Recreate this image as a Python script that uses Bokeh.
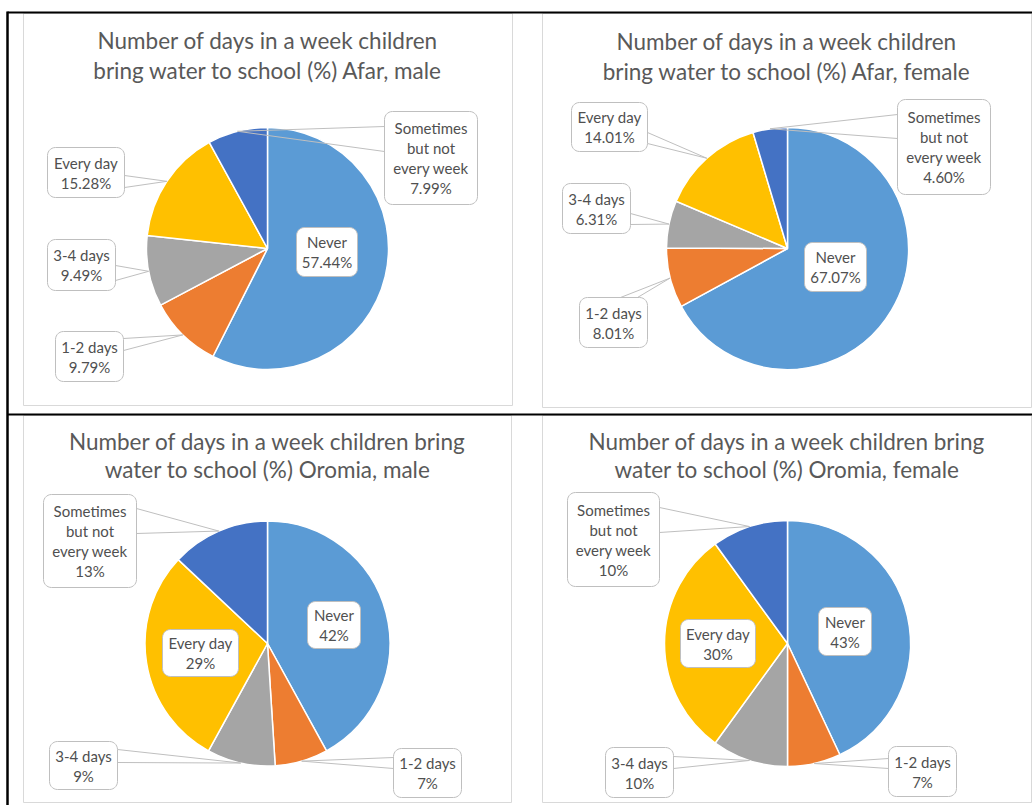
import numpy as np
from bokeh.plotting import figure
from bokeh.models import Range1d, ColumnDataSource
from bokeh.embed import file_html
from bokeh.resources import INLINE
from bokeh.core.properties import value

W, H = 1032, 805

# ---- data -------------------------------------------------------------
categories = ["Never", "1-2 days", "3-4 days", "Every day",
              "Sometimes but not every week"]
category_lines = [["Never"], ["1-2 days"], ["3-4 days"], ["Every day"],
                  ["Sometimes", "but not", "every week"]]
colors = ["#5B9BD5", "#ED7D31", "#A5A5A5", "#FFC000", "#4472C4"]

afar_male = [57.44, 9.79, 9.49, 15.28, 7.99]
afar_female = [67.07, 8.01, 6.31, 14.01, 4.60]
oromia_male = [42, 7, 9, 29, 13]
oromia_female = [43, 7, 10, 30, 10]

titles = [
    ["Number of days in a week children", "bring water to school (%) Afar, male"],
    ["Number of days in a week children", "bring water to school (%) Afar, female"],
    ["Number of days in a week children bring", "water to school (%) Oromia, male"],
    ["Number of days in a week children bring", "water to school (%) Oromia, female"],
]
decimals = [2, 2, 0, 0]
series = [afar_male, afar_female, oromia_male, oromia_female]

# ---- layout (page pixels, y measured downwards) -----------------------
# per panel: pie centre, radius, title line centres, frame, callouts
# callout: (x0, y0, x1, y1) box and pointer (edge, a, b) or None
panels = [
    dict(c=(267, 248), r=121, ty=[39.5, 69.5], frame=(23, 13, 512, 405),
         boxes=[(296, 227, 357, 276), (55, 331, 123, 381), (47, 239, 115, 290),
                (47, 147, 124, 197), (384, 111, 477, 204)],
         ptr=[None, ("R", 338, 350), ("R", 265, 280), ("R", 175, 187),
              ("L", 126, 151)]),
    dict(c=(787, 248), r=121, ty=[41.3, 71.0], frame=(542, 13, 1031, 407),
         boxes=[(804, 242, 866, 291), (579, 297, 647, 347), (562, 183, 630, 233),
                (571, 102, 647, 151), (897, 99, 990, 194)],
         ptr=[None, ("T", 620, 637), ("R", 213, 224), ("R", 132, 143),
              ("L", 114, 138)]),
    dict(c=(267, 643), r=122.5, ty=[441.3, 469.0], frame=(23, 415, 511, 802),
         boxes=[(307, 601, 360, 648), (393, 748, 461, 797), (49, 741, 117, 789),
                (162, 629, 238, 676), (43, 494, 136, 587)],
         ptr=[None, ("L", 757, 768), ("R", 749, 762), None, ("R", 508, 533)]),
    dict(c=(787, 643), r=123, ty=[441.3, 468.8], frame=(542, 415, 1031, 802),
         boxes=[(818, 607, 871, 655), (888, 746, 956, 796), (605, 747, 673, 797),
                (680, 619, 755, 667), (567, 492, 659, 586)],
         ptr=[None, ("L", 758, 768), ("R", 756, 768), None, ("R", 507, 532)]),
]

FONT = value("Lato")
TITLE_COLOR = "#595959"
LABEL_COLOR = "#505050"
BOX_LINE = "#BFBFBF"
FRAME_LINE = "#D9D9D9"


def Y(py):
    return H - py


def rounded_rect(x0, y0, x1, y1, rad=8, n=8):
    """Outline of a rounded rectangle in page pixels (y down)."""
    xs, ys = [], []
    corners = [(x1 - rad, y0 + rad, -np.pi / 2, 0),
               (x1 - rad, y1 - rad, 0, np.pi / 2),
               (x0 + rad, y1 - rad, np.pi / 2, np.pi),
               (x0 + rad, y0 + rad, np.pi, 1.5 * np.pi)]
    for cx, cy, a0, a1 in corners:
        t = np.linspace(a0, a1, n)
        xs.extend(cx + rad * np.cos(t))
        ys.extend(Y(cy + rad * np.sin(t)))
    return list(xs), list(ys)


p = figure(width=W, height=H, x_range=Range1d(0, W), y_range=Range1d(0, H),
           output_backend="svg", toolbar_location=None, min_border=0,
           x_axis_type=None, y_axis_type=None)
p.outline_line_color = None
p.grid.visible = False
p.background_fill_color = "white"
p.border_fill_color = "white"

for k, (vals, pan) in enumerate(zip(series, panels)):
    v = np.array(vals, dtype=float)
    cum = np.cumsum(v)
    total = v.sum()
    cw0 = 2 * np.pi * (cum - v) / total      # clockwise from 12 o'clock
    cw1 = 2 * np.pi * cum / total
    cx, cy = pan["c"]
    r = pan["r"]

    # chart frame
    fx0, fy0, fx1, fy1 = pan["frame"]
    p.quad(left=fx0, right=fx1, top=Y(fy0), bottom=Y(fy1),
           fill_color=None, line_color=FRAME_LINE, line_width=1)

    # pie slices
    src = ColumnDataSource(dict(
        x=[cx] * len(v), y=[Y(cy)] * len(v),
        start=list(np.pi / 2 - cw1), end=list(np.pi / 2 - cw0),
        color=colors, cat=categories))
    p.wedge(x="x", y="y", radius=r, start_angle="start", end_angle="end",
            direction="anticlock", fill_color="color", line_color="white",
            line_width=1.5, source=src)

    # title
    for line, ty in zip(titles[k], pan["ty"]):
        p.text(x=[(fx0 + fx1) / 2], y=[Y(ty)], text=[line], text_font=FONT,
               text_font_size="22.5px", text_color=TITLE_COLOR,
               text_align="center", text_baseline="middle")

    # callouts
    mid = (cw0 + cw1) / 2
    for i in range(len(v)):
        bx0, by0, bx1, by1 = pan["boxes"][i]
        ptr = pan["ptr"][i]
        if ptr is not None:
            tx = cx + r * np.sin(mid[i])
            ty = cy - r * np.cos(mid[i])
            side, a, b = ptr
            if side == "L":
                base = [(bx0, a), (bx0, b)]
            elif side == "R":
                base = [(bx1, a), (bx1, b)]
            elif side == "T":
                base = [(a, by0), (b, by0)]
            else:
                base = [(a, by1), (b, by1)]
            for (px, py) in base:
                p.line(x=[px, tx], y=[Y(py), Y(ty)], line_color=BOX_LINE,
                       line_width=1)
        xs, ys = rounded_rect(bx0, by0, bx1, by1)
        p.patch(x=xs, y=ys, fill_color="white", line_color=BOX_LINE,
                line_width=1)
        fmt = "{:.%df}%%" % decimals[k]
        lines = category_lines[i] + [fmt.format(v[i])]
        yc = (by0 + by1) / 2
        n = len(lines)
        for j, t in enumerate(lines):
            ly = yc + (j - (n - 1) / 2) * 20
            p.text(x=[(bx0 + bx1) / 2], y=[Y(ly)], text=[t], text_font=FONT,
                   text_font_size="15px", text_color=LABEL_COLOR,
                   text_align="center", text_baseline="middle")

# table rules
p.line(x=[7, W], y=[Y(12), Y(12)], line_color="black", line_width=2)
p.line(x=[7, W], y=[Y(414), Y(414)], line_color="black", line_width=2)
p.line(x=[7, 7], y=[Y(11), Y(H)], line_color="black", line_width=2.5)

open("out.html", "w").write(file_html(p, INLINE))
